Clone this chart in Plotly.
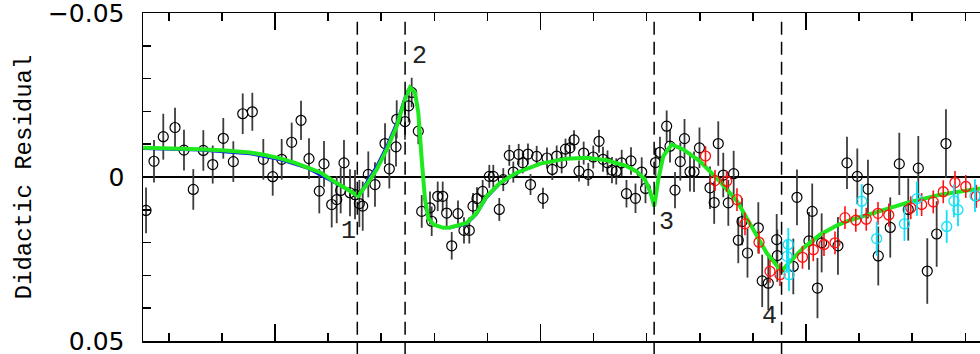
import plotly.graph_objects as go

# ---- black data points (x, residual, error) ----
bx = [2.571, 2.721, 2.896, 3.117, 3.286, 3.461, 3.650, 3.827, 4.026, 4.215,
      4.392, 4.573, 4.780, 4.957, 5.126, 5.314, 5.490, 5.640, 5.834, 5.923,
      6.068, 6.162, 6.237, 6.299, 6.412, 6.507, 6.588, 6.652, 6.757, 6.883,
      7.072, 7.153, 7.279, 7.292, 7.448, 7.518, 7.574, 7.699, 7.763, 7.919,
      7.951, 8.064, 8.158, 8.233, 8.328, 8.446, 8.559, 8.659, 8.729, 8.804,
      8.911, 9.036, 9.111, 9.224, 9.299, 9.412, 9.488, 9.589, 9.665, 9.764,
      9.812, 9.928, 10.047, 10.122, 10.222, 10.305, 10.399, 10.471, 10.555, 10.631,
      10.725, 10.813, 10.900, 10.994, 11.102, 11.177, 11.262, 11.346, 11.427, 11.529,
      11.619, 11.704, 11.789, 11.906, 11.977, 12.166, 12.250, 12.376, 12.439, 12.533,
      12.633, 12.712, 12.815, 12.891, 12.994, 13.192, 13.271, 13.348, 13.442, 13.537,
      13.638, 13.725, 13.795, 13.898, 14.102, 14.175, 14.290, 14.448, 14.460, 14.761,
      14.830, 15.056, 15.117, 15.216, 15.295, 15.602, 15.772, 15.966, 16.167, 16.361,
      16.587, 16.757, 16.926, 17.115, 17.284, 17.461, 17.636]
by = [0.0102, -0.0048, -0.0123, -0.0151, -0.0082, 0.0038, -0.0081, -0.0038, -0.0118, -0.0047,
      -0.0193, -0.0199, -0.0054, -0.0001, -0.0054, -0.0106, -0.0173, -0.0056, 0.0043, -0.0040,
      0.0084, 0.0069, 0.0041, -0.0043, 0.0048, 0.0054, 0.0081, 0.0089, -0.0008, 0.0023,
      -0.0102, -0.0025, -0.0092, -0.0176, -0.0169, -0.0217, -0.0258, -0.0140, 0.0105, 0.0094,
      0.0135, 0.0059, 0.0059, 0.0110, 0.0210, 0.0112, 0.0163, 0.0163, 0.0089, 0.0066,
      0.0044, -0.0002, -0.0002, 0.0099, 0.0008, -0.0066, -0.0015, -0.0069, -0.0043, -0.0070,
      0.0023, -0.0063, 0.0065, -0.0058, -0.0023, -0.0064, -0.0043, -0.0085, -0.0089, -0.0113,
      -0.0018, -0.0073, -0.0008, -0.0061, -0.0109, -0.0054, -0.0043, -0.0021, -0.0017, -0.0043,
      0.0051, -0.0049, 0.0065, -0.0015, 0.0035, -0.0044, -0.0075, -0.0155, -0.0094, 0.0040,
      -0.0047, -0.0117, -0.0016, -0.0016, -0.0089, 0.0033, 0.0078, -0.0102, -0.0006, 0.0079,
      -0.0010, 0.0193, 0.0136, 0.0232, 0.0155, 0.0317, 0.0324, 0.0191, 0.0240, 0.0273,
      0.0062, 0.0195, 0.0105, 0.0339, 0.0201, 0.0210, -0.0043, -0.0002, 0.0037, 0.0241,
      0.0154, -0.0040, 0.0099, -0.0027, 0.0287, 0.0174, -0.0102]
be = [0.0070, 0.0065, 0.0070, 0.0060, 0.0062, 0.0062, 0.0062, 0.0058, 0.0062, 0.0062,
      0.0062, 0.0058, 0.0062, 0.0058, 0.0062, 0.0060, 0.0060, 0.0062, 0.0068, 0.0070,
      0.0070, 0.0072, 0.0070, 0.0070, 0.0072, 0.0075, 0.0072, 0.0075, 0.0070, 0.0068,
      0.0062, 0.0060, 0.0060, 0.0058, 0.0055, 0.0050, 0.0045, 0.0040, 0.0050, 0.0050,
      0.0045, 0.0045, 0.0045, 0.0045, 0.0042, 0.0040, 0.0040, 0.0040, 0.0040, 0.0035,
      0.0035, 0.0035, 0.0035, 0.0035, 0.0035, 0.0032, 0.0032, 0.0032, 0.0032, 0.0032,
      0.0032, 0.0032, 0.0032, 0.0032, 0.0032, 0.0032, 0.0032, 0.0032, 0.0032, 0.0030,
      0.0032, 0.0035, 0.0035, 0.0035, 0.0035, 0.0038, 0.0038, 0.0040, 0.0040, 0.0040,
      0.0042, 0.0042, 0.0045, 0.0045, 0.0045, 0.0045, 0.0048, 0.0048, 0.0050, 0.0055,
      0.0058, 0.0060, 0.0060, 0.0062, 0.0062, 0.0065, 0.0065, 0.0068, 0.0068, 0.0070,
      0.0070, 0.0070, 0.0072, 0.0075, 0.0078, 0.0080, 0.0082, 0.0078, 0.0080, 0.0085,
      0.0085, 0.0088, 0.0085, 0.0092, 0.0090, 0.0088, 0.0080, 0.0085, 0.0090, 0.0090,
      0.0092, 0.0095, 0.0095, 0.0098, 0.0100, 0.0100, 0.0105]

# ---- red data points ----
rx = [13.107, 13.286, 13.506, 13.700, 13.851, 14.115, 14.322, 14.510, 14.934, 15.137,
      15.339, 15.546, 15.734, 15.938, 16.135, 16.356, 16.559, 16.973, 17.178, 17.397,
      17.585, 17.806, 18.009, 18.207]
ry = [-0.0064, 0.0011, 0.0013, 0.0069, 0.0143, 0.0199, 0.0288, 0.0298, 0.0245, 0.0222,
      0.0206, 0.0201, 0.0124, 0.0132, 0.0129, 0.0111, 0.0116, 0.0094, 0.0084, 0.0076,
      0.0045, 0.0017, 0.0029, 0.0059]
re = [0.0030, 0.0032, 0.0032, 0.0035, 0.0035, 0.0035, 0.0035, 0.0035, 0.0035, 0.0035,
      0.0035, 0.0035, 0.0035, 0.0035, 0.0035, 0.0035, 0.0035, 0.0035, 0.0035, 0.0035,
      0.0035, 0.0035, 0.0035, 0.0035]

# ---- cyan data points ----
cx = [14.642, 14.667, 14.680, 16.049, 16.331, 16.855, 17.090, 17.650, 17.787, 17.862, 18.182]
cy = [0.0242, 0.0206, 0.0298, 0.0074, 0.0188, 0.0143, 0.0066, 0.0151, 0.0073, 0.0100, 0.0057]
ce = [0.0050, 0.0050, 0.0050, 0.0052, 0.0052, 0.0052, 0.0052, 0.0050, 0.0050, 0.0050, 0.0050]

# ---- green model curve ----
gx = [2.514, 3.023, 3.588, 4.058, 4.529, 4.812, 5.094, 5.377, 5.621, 5.847,
      6.098, 6.350, 6.569, 6.727, 6.915, 7.104, 7.292, 7.448, 7.542, 7.636,
      7.699, 7.763, 7.825, 7.887, 7.981, 8.169, 8.296, 8.610, 8.798, 8.987,
      9.237, 9.552, 10.000, 10.493, 10.870, 11.247, 11.623, 11.811, 11.968, 12.062,
      12.143, 12.218, 12.313, 12.471, 12.689, 13.004, 13.254, 13.380, 13.695, 14.007,
      14.260, 14.538, 14.698, 14.949, 15.263, 15.578, 15.828, 16.267, 16.896, 17.523,
      18.277]
gy = [-0.0089, -0.0088, -0.0085, -0.0081, -0.0075, -0.0067, -0.0057, -0.0043, -0.0029, -0.0014,
      0.0012, 0.0037, 0.0058, 0.0023, -0.0023, -0.0084, -0.0155, -0.0237, -0.0273, -0.0258,
      -0.0196, -0.0054, 0.0069, 0.0125, 0.0145, 0.0155, 0.0154, 0.0140, 0.0110, 0.0059,
      0.0018, -0.0013, -0.0041, -0.0056, -0.0059, -0.0051, -0.0033, -0.0017, 0.0008, 0.0043,
      0.0089, 0.0008, -0.0064, -0.0099, -0.0084, -0.0048, -0.0008, 0.0014, 0.0072, 0.0161,
      0.0232, 0.0288, 0.0258, 0.0217, 0.0176, 0.0148, 0.0132, 0.0110, 0.0079, 0.0054,
      0.0035]

# ---- blue model curve ----
ux = [2.514, 3.588, 4.529, 5.094, 5.621, 6.098, 6.569, 6.727, 6.915, 7.104,
      7.292, 7.448, 7.542, 7.636, 7.699, 7.763, 7.825, 7.887, 7.981, 8.169,
      8.296, 8.610, 8.798, 8.987, 9.237, 9.552, 10.000, 10.493, 10.870, 11.247,
      11.623, 11.811, 11.968, 12.062, 12.143, 12.218, 12.313, 12.471, 12.689, 13.004,
      13.254, 13.380, 13.695, 14.007, 14.260, 14.538, 14.698, 14.949, 15.263, 15.578,
      15.828, 16.267, 16.896, 17.523, 18.277]
uy = [-0.0086, -0.0081, -0.0070, -0.0052, -0.0025, 0.0015, 0.0057, 0.0014, -0.0035, -0.0096,
      -0.0167, -0.0246, -0.0275, -0.0258, -0.0196, -0.0054, 0.0069, 0.0125, 0.0145, 0.0155,
      0.0156, 0.0144, 0.0115, 0.0064, 0.0021, -0.0011, -0.0041, -0.0056, -0.0059, -0.0051,
      -0.0033, -0.0017, 0.0008, 0.0043, 0.0089, 0.0008, -0.0064, -0.0099, -0.0084, -0.0048,
      -0.0008, 0.0014, 0.0072, 0.0161, 0.0232, 0.0288, 0.0258, 0.0217, 0.0176, 0.0148,
      0.0132, 0.0110, 0.0079, 0.0054, 0.0035]

# ---- reference lines and labels ----
vlines = [6.55, 7.45, 12.14, 14.54]
lab_text = ["1", "2", "3", "4"]
lab_x = [6.375, 7.712, 12.382, 14.322]
lab_y = [0.0167, -0.0369, 0.0139, 0.0427]

ytick_vals = [-0.05, 0, 0.05]
ytick_text = ["\u22120.05", "0", "0.05"]

fig = go.Figure()

fig.add_trace(go.Scatter(
    x=bx, y=by, mode="markers",
    marker=dict(symbol="circle-open", size=10, color="black", line=dict(width=1.2)),
    error_y=dict(type="data", array=be, visible=True, color="#3c3c3c", thickness=1.8, width=0),
    hoverinfo="skip"))

fig.add_trace(go.Scatter(x=ux, y=uy, mode="lines",
                         line=dict(color="#1010ff", width=2.2), hoverinfo="skip"))
fig.add_trace(go.Scatter(x=gx, y=gy, mode="lines",
                         line=dict(color="#1ee81e", width=4), hoverinfo="skip"))

fig.add_trace(go.Scatter(
    x=rx, y=ry, mode="markers",
    marker=dict(symbol="circle-open", size=10, color="#ff1010", line=dict(width=1.3)),
    error_y=dict(type="data", array=re, visible=True, color="#ff1010", thickness=1.6, width=0),
    hoverinfo="skip"))

fig.add_trace(go.Scatter(
    x=cx, y=cy, mode="markers",
    marker=dict(symbol="circle-open", size=10, color="#10e0f8", line=dict(width=1.3)),
    error_y=dict(type="data", array=ce, visible=True, color="#10e0f8", thickness=1.8, width=0),
    hoverinfo="skip"))

for xv in vlines:
    fig.add_shape(type="line", xref="x", yref="paper", x0=xv, x1=xv, y0=0.973, y1=-0.06,
                  line=dict(color="black", width=1.5, dash="13px,7px"))

for t, xv, yv in zip(lab_text, lab_x, lab_y):
    fig.add_annotation(x=xv, y=yv, xref="x", yref="y", text=t, showarrow=False,
                       font=dict(family="Liberation Mono", size=25, color="#222"))

fig.update_layout(
    width=980, height=354,
    margin=dict(l=143, r=0, t=13, b=13, autoexpand=False),
    plot_bgcolor="white", paper_bgcolor="white", showlegend=False)

fig.update_xaxes(
    automargin=False,
    range=[2.514, 18.277], showline=True, linecolor="black", linewidth=1.5,
    mirror="ticks", ticks="inside", ticklen=17, tickwidth=1.5, tickcolor="black",
    tick0=0, dtick=5, showticklabels=False, showgrid=False, zeroline=False,
    minor=dict(ticks="inside", ticklen=8, tick0=0, dtick=1, tickwidth=1.5,
               tickcolor="black", showgrid=False))

fig.update_yaxes(
    automargin=False,
    range=[0.05005, -0.05005], showline=True, linecolor="black", linewidth=1.5, mirror=False,
    ticks="inside", ticklen=8, tickwidth=1.5, tickcolor="black",
    tickmode="array", tickvals=ytick_vals, ticktext=ytick_text,
    tickfont=dict(family="DejaVu Sans", size=25, color="black"), ticklabelstandoff=12,
    ticklabeloverflow="allow",
    showgrid=False, zeroline=True, zerolinecolor="black", zerolinewidth=1.2,
    minor=dict(ticks="inside", ticklen=8, tick0=0, dtick=0.01, tickwidth=1.5,
               tickcolor="black", showgrid=False),
    title=dict(text="Didactic Residual",
               font=dict(family="Liberation Mono", size=24, color="black"), standoff=9))

fig.write_html("out.html",
               config={"displayModeBar": False, "staticPlot": True},
               post_script="document.body.style.margin='0';document.body.style.overflow='hidden';")
